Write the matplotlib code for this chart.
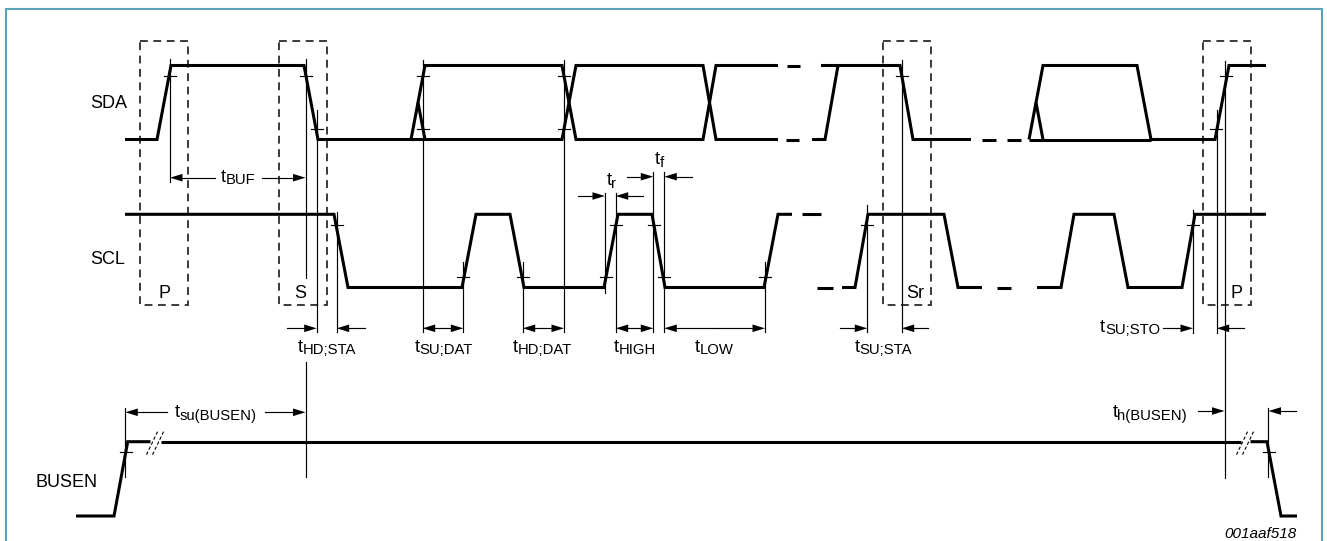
import matplotlib
matplotlib.use('Agg')
import matplotlib.pyplot as plt
from matplotlib.patches import Polygon, Rectangle

plt.rcParams['font.family'] = ['Liberation Sans', 'DejaVu Sans']

W, H = 1327, 541

# signal rails (low, high) in pixel rows
rails = {'SDA': (139.5, 65.5), 'SCL': (287.5, 214.3), 'BUSEN': (516.0, 441.7)}
thr = 10.5  # threshold marks sit this far inside the rails

# waveform breakpoints: (time, logic level)
sda_traces = [
    [(125, 0), (157, 0), (171, 1), (304, 1), (318, 0), (562, 0), (576, 1), (703, 1), (716, 0), (778, 0)],
    [(411, 0), (425, 1), (562, 1), (576, 0), (703, 0), (716, 1), (778, 1)],
    [(418, 0.5), (425, 0)],
    [(812, 0), (825, 0), (838, 1)],
    [(821, 1), (900, 1), (913, 0), (971, 0)],
    [(1029, 0), (1043, 1), (1137, 1), (1151, 0), (1215, 0), (1229, 1), (1266, 1)],
    [(1029, 0), (1151, 0)],
    [(1036, 0.5), (1043, 0)],
]
sda_dashes = [(787, 800, 1), (786, 799, 0), (982, 996, 0), (1007, 1021, 0)]

scl_traces = [
    [(125, 1), (334, 1), (348, 0), (462, 0), (476, 1), (510, 1), (524, 0), (604, 0), (618, 1),
     (652, 1), (665, 0), (764, 0), (778, 1), (792, 1)],
    [(842, 0), (855, 0), (868, 1), (944, 1), (958, 0), (982, 0)],
    [(1037, 0), (1061, 0), (1074, 1), (1114, 1), (1128, 0), (1182, 0), (1195, 1), (1266, 1)],
]
scl_dashes = [(802, 821, 1), (817, 833, 0), (997, 1011, 0)]

busen_traces = [
    [(76, 0), (114, 0), (127.7, 1), (150.5, 1)],
    [(160.5, 1), (1240.5, 1)],
    [(1250.5, 1), (1267, 1), (1281, 0), (1297, 0)],
]
busen_breaks = [155.5, 1245.5]

# threshold crossing marks
ticks_sda_hi = [170, 306, 422.7, 564, 901.7, 1226]
ticks_sda_lo = [316.5, 422.7, 564, 1216]
ticks_scl_hi = [336.7, 616, 653.5, 867, 1193]
ticks_scl_lo = [463.3, 522.7, 605.5, 664, 765]
ticks_bus_hi = [125.5, 1268.5]

# thin reference lines (time, top, bottom)
guides = [
    (170, 59, 182), (306, 59, 278), (306, 362, 477), (316.7, 110, 332), (336.7, 212, 332),
    (422.7, 60, 332), (463.3, 262, 332), (522.7, 262, 332), (564, 60, 332),
    (605, 193, 293), (615.7, 193, 332), (653.3, 172, 332), (664.3, 172, 332),
    (765, 262, 332), (867.3, 205, 332), (901.7, 60, 332), (1193, 210, 333),
    (1216.7, 110, 333), (1225.3, 61, 478), (125.3, 408, 477), (1268.3, 408, 477),
]

# dashed condition boxes (left, right, label, label x)
boxes = [(140, 188, 'P', 164.5), (279.3, 327, 'S', 300.5), (882.7, 930.7, 'Sr', 915),
         (1202.7, 1251, 'P', 1237)]
box_top, box_bot = 41, 305.3

# dimension arrows (tail, tip, row)
single_arrows = [
    (286.7, 316.7, 328.3), (365, 336.7, 328.3), (840, 867.3, 328.3), (928.3, 901.7, 328.3),
    (1163, 1193, 328.3), (1244, 1216.7, 328.3),
    (578.3, 605, 196), (643.3, 615.7, 196),
    (626.7, 653.3, 176.7), (691.7, 664.3, 176.7),
    (215, 170, 177.7), (261.7, 305.5, 177.7),
    (166.7, 125.3, 412.3), (265, 305.5, 412.3),
    (1198.3, 1224.5, 411), (1296, 1268.5, 411),
]
double_arrows = [(422.7, 463.3, 328.3), (522.7, 564, 328.3), (615.7, 653.3, 328.3), (664.3, 765, 328.3)]

# timing labels: (x, baseline, subscript, anchor)
t_labels = [
    (237.7, 181.7, 'BUF', 'center'),
    (216, 417, 'su(BUSEN)', 'center'),
    (326.7, 351.7, 'HD;STA', 'center'),
    (443.7, 351.7, 'SU;DAT', 'center'),
    (542.5, 351.7, 'HD;DAT', 'center'),
    (635.3, 351.7, 'HIGH', 'center'),
    (714, 351.7, 'LOW', 'center'),
    (883.3, 351.7, 'SU;STA', 'center'),
    (1160, 331.7, 'SU;STO', 'right'),
    (1187, 417, 'h(BUSEN)', 'right'),
    (611.5, 185, 'r', 'center'),
    (659, 164.3, 'f', 'center'),
]
signal_names = [('SDA', 108.5, 108.3), ('SCL', 107.2, 264), ('BUSEN', 66.7, 486.7)]

fig = plt.figure(figsize=(W / 100, H / 100), dpi=100)
ax = fig.add_axes([0, 0, 1, 1])
ax.set_xlim(0, W)
ax.set_ylim(H, 0)
ax.axis('off')

THICK = 2.2
THIN = 0.85


def yof(sig, lvl):
    lo, hi = rails[sig]
    return lo + (hi - lo) * lvl


def trace(sig, pts):
    ax.plot([p[0] for p in pts], [yof(sig, p[1]) for p in pts], color='black', lw=THICK,
            solid_joinstyle='miter', solid_capstyle='butt')


for pts in sda_traces:
    trace('SDA', pts)
for x0, x1, l in sda_dashes:
    trace('SDA', [(x0, l), (x1, l)])
for pts in scl_traces:
    trace('SCL', pts)
for x0, x1, l in scl_dashes:
    trace('SCL', [(x0, l), (x1, l)])
for pts in busen_traces:
    trace('BUSEN', pts)

# break marks on BUSEN
yb = rails['BUSEN'][1]
for cx in busen_breaks:
    for dx in (-3, 3):
        ax.plot([cx + dx - 6, cx + dx + 6], [yb + 13, yb - 12], color='black', lw=0.8,
                dashes=(3, 2))


def ticks(sig, xs, upper):
    lo, hi = rails[sig]
    y = hi + thr if upper else lo - thr
    for x in xs:
        ax.plot([x - 6, x + 6], [y, y], color='black', lw=THIN)


ticks('SDA', ticks_sda_hi, True)
ticks('SDA', ticks_sda_lo, False)
ticks('SCL', ticks_scl_hi, True)
ticks('SCL', ticks_scl_lo, False)
ticks('BUSEN', ticks_bus_hi, True)

for x, y0, y1 in guides:
    ax.plot([x, x], [y0, y1], color='black', lw=THIN)

for x0, x1, lab, lx in boxes:
    ax.add_patch(Rectangle((x0, box_top), x1 - x0, box_bot - box_top, fill=False,
                           edgecolor='#222222', lw=1.25, linestyle=(0, (4.5, 3.2))))
    ax.text(lx, 297.5, lab, fontsize=13, ha='center', va='baseline')


def arrow(tail, tip, y, hl=12.5, hw=3.8):
    d = 1 if tip > tail else -1
    ax.plot([tail, tip - d * hl * 0.8], [y, y], color='black', lw=THIN)
    ax.add_patch(Polygon([(tip, y), (tip - d * hl, y - hw), (tip - d * hl, y + hw)],
                         closed=True, facecolor='black', edgecolor='none'))


for tail, tip, y in single_arrows:
    arrow(tail, tip, y)
for a, b, y in double_arrows:
    m = (a + b) / 2
    arrow(m, a, y)
    arrow(m, b, y)

renderer = fig.canvas.get_renderer()


def tlabel(x, y, sub, anchor):
    t1 = ax.text(0, y, 't', fontsize=13, ha='left', va='baseline')
    t2 = ax.text(0, y + 2.8, sub, fontsize=10.7, ha='left', va='baseline')
    w1 = t1.get_window_extent(renderer).width
    w2 = t2.get_window_extent(renderer).width
    total = w1 + w2
    x0 = x - total / 2 if anchor == 'center' else x - total
    t1.set_x(x0)
    t2.set_x(x0 + w1)


for x, y, sub, anc in t_labels:
    tlabel(x, y, sub, anc)

for name, x, y in signal_names:
    ax.text(x, y, name, fontsize=13, ha='center', va='baseline')

ax.text(1297, 538.5, '001aaf518', fontsize=11, style='italic', ha='right', va='baseline')

# frame
ax.plot([5.5, 5.5, 1322, 1322], [545, 8.5, 8.5, 545], color='#5aa3bb', lw=1.5,
        solid_joinstyle='miter')

fig.savefig('out.png', dpi=100)
